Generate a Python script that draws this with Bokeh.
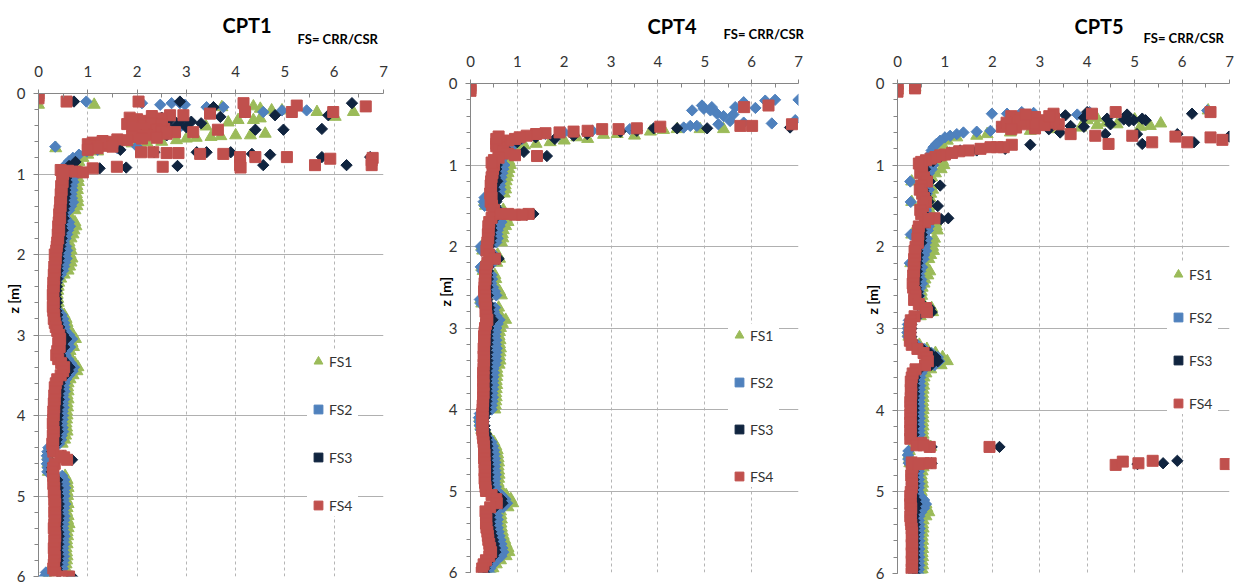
import math
from bokeh.plotting import figure
from bokeh.layouts import row
from bokeh.models import Range1d, FixedTicker, Title
from bokeh.embed import file_html
from bokeh.resources import INLINE

nan = float("nan")

SERIES = ["FS1", "FS2", "FS3", "FS4"]
PANELS = ["CPT1", "CPT4", "CPT5"]
SUBTITLE = "FS= CRR/CSR"
Y_LABEL = "z [m]"
X_TICKS = [0, 1, 2, 3, 4, 5, 6, 7]
Y_TICKS = [0, 1, 2, 3, 4, 5, 6]

# regular CPT depth grid below 1 m (m)
DEPTH = [1.00, 1.05, 1.10, 1.15, 1.20, 1.25, 1.30, 1.35, 1.40, 1.45,
         1.50, 1.55, 1.60, 1.65, 1.70, 1.75, 1.80, 1.85, 1.90, 1.95,
         2.00, 2.05, 2.10, 2.15, 2.20, 2.25, 2.30, 2.35, 2.40, 2.45,
         2.50, 2.55, 2.60, 2.65, 2.70, 2.75, 2.80, 2.85, 2.90, 2.95,
         3.00, 3.05, 3.10, 3.15, 3.20, 3.25, 3.30, 3.35, 3.40, 3.45,
         3.50, 3.55, 3.60, 3.65, 3.70, 3.75, 3.80, 3.85, 3.90, 3.95,
         4.00, 4.05, 4.10, 4.15, 4.20, 4.25, 4.30, 4.35, 4.40, 4.45,
         4.50, 4.55, 4.60, 4.65, 4.70, 4.75, 4.80, 4.85, 4.90, 4.95,
         5.00, 5.05, 5.10, 5.15, 5.20, 5.25, 5.30, 5.35, 5.40, 5.45,
         5.50, 5.55, 5.60, 5.65, 5.70, 5.75, 5.80, 5.85, 5.90, 5.95,
         6.00]

# ---------------- CPT1 ----------------
c1_fs1 = [0.82, 0.80, 0.81, 0.78, 0.79, 0.77, 0.79, 0.80, 0.78, 0.74,
          0.62, 0.64, 0.74, 0.76, 0.72, 0.70, 0.66, 0.62, 0.64, 0.66,
          0.64, 0.68, 0.66, 0.63, 0.60, 0.52, 0.45, 0.41, 0.40, 0.39,
          0.38, 0.39, 0.40, 0.38, 0.44, 0.52, 0.56, 0.58, 0.60, 0.62,
          0.70, 0.75, 0.68, 0.71, 0.64, 0.62, 0.67, 0.74, 0.80, 0.78,
          0.70, 0.64, 0.60, 0.59, 0.60, 0.58, 0.60, 0.58, 0.59, 0.57,
          0.58, 0.57, 0.56, 0.57, 0.58, 0.55, 0.53, 0.48, 0.22, 0.20,
          0.19, 0.20, 0.19, 0.21, 0.20, 0.54, 0.58, 0.59, 0.60, 0.58,
          0.59, 0.57, 0.60, 0.58, 0.57, 0.60, 0.59, 0.62, 0.60, 0.58,
          0.59, 0.57, 0.58, 0.56, 0.57, 0.58, 0.57, 0.56, 0.55, 0.20,
          0.18]
c1_fs2 = [0.72, 0.70, 0.71, 0.68, 0.69, 0.67, 0.68, 0.70, 0.66, 0.62,
          0.52, 0.55, 0.62, 0.64, 0.60, 0.58, 0.55, 0.52, 0.56, 0.58,
          0.55, 0.57, 0.54, 0.52, 0.50, 0.45, 0.40, 0.37, 0.36, 0.35,
          0.34, 0.35, 0.36, 0.34, 0.40, 0.47, 0.50, 0.52, 0.53, 0.55,
          0.62, 0.68, 0.60, 0.64, 0.57, 0.55, 0.60, 0.66, 0.72, 0.69,
          0.62, 0.56, 0.53, 0.52, 0.53, 0.50, 0.52, 0.50, 0.51, 0.49,
          0.50, 0.49, 0.48, 0.49, 0.50, 0.47, 0.46, 0.42, 0.20, 0.18,
          0.17, 0.18, 0.17, 0.19, 0.18, 0.48, 0.52, 0.53, 0.54, 0.52,
          0.53, 0.51, 0.54, 0.52, 0.51, 0.53, 0.52, 0.51, 0.50, 0.52,
          0.53, 0.51, 0.52, 0.50, 0.51, 0.52, 0.51, 0.50, 0.49, 0.15,
          0.12]
c1_fs3 = [0.58, 0.56, 0.57, 0.55, 0.54, 0.55, 0.53, 0.52, 0.53, 0.51,
          0.49, 0.51, 0.48, 0.47, 0.49, 0.46, 0.47, 0.45, 0.44, 0.43,
          0.40, 0.41, 0.40, 0.38, 0.39, 0.37, 0.38, 0.36, 0.37, 0.36,
          0.35, 0.36, 0.37, 0.35, 0.36, 0.38, 0.37, 0.39, 0.42, 0.45,
          0.50, 0.56, 0.48, 0.52, 0.46, 0.44, 0.49, 0.56, 0.63, 0.60,
          0.54, 0.46, 0.43, 0.41, 0.42, 0.40, 0.41, 0.39, 0.40, 0.38,
          0.39, 0.38, 0.37, 0.38, 0.39, 0.36, 0.37, 0.35, 0.30, 0.28,
          0.50, 0.68, 0.30, 0.28, 0.27, 0.30, 0.38, 0.37, 0.39, 0.38,
          0.40, 0.39, 0.41, 0.40, 0.39, 0.41, 0.40, 0.39, 0.38, 0.40,
          0.41, 0.39, 0.40, 0.38, 0.39, 0.40, 0.39, 0.38, 0.37, 0.41,
          0.68]
c1_fs4 = [0.50, 0.48, 0.49, 0.46, 0.47, 0.45, 0.46, 0.44, 0.45, 0.43,
          0.42, 0.44, 0.41, 0.40, 0.42, 0.39, 0.40, 0.38, 0.37, 0.36,
          0.33, 0.35, 0.34, 0.32, 0.33, 0.31, 0.32, 0.30, 0.31, 0.30,
          0.29, 0.30, 0.31, 0.29, 0.30, 0.32, 0.31, 0.33, 0.35, 0.38,
          0.42, 0.44, 0.40, 0.43, 0.38, 0.36, 0.40, 0.46, 0.52, 0.50,
          0.45, 0.38, 0.35, 0.33, 0.34, 0.32, 0.33, 0.31, 0.32, 0.30,
          0.31, 0.30, 0.29, 0.30, 0.31, 0.29, 0.30, 0.28, 0.29, 0.30,
          0.45, 0.58, 0.33, 0.30, 0.29, 0.30, 0.31, 0.30, 0.32, 0.31,
          0.33, 0.32, 0.34, 0.33, 0.32, 0.34, 0.33, 0.32, 0.31, 0.33,
          0.34, 0.32, 0.33, 0.31, 0.32, 0.33, 0.32, 0.31, 0.30, 0.34,
          0.62]
# scattered readings (depth m, FS)
c1_fs1_pts = [(0.14, 0.00), (0.14, 1.13), (0.17, 3.72), (0.16, 4.36), (0.21, 4.73), (0.21, 4.94),
              (0.23, 5.65), (0.29, 6.02), (0.23, 6.39), (0.19, 4.50), (0.41, 3.40), (0.36, 3.85),
              (0.33, 4.05), (0.33, 4.36), (0.31, 4.50), (0.50, 4.60), (0.52, 4.30), (0.52, 4.00),
              (0.53, 3.70), (0.54, 3.50), (0.55, 3.20), (0.56, 3.00), (0.58, 2.80), (0.60, 2.50),
              (0.61, 2.20), (0.62, 1.90), (0.63, 1.60), (0.64, 1.40), (0.68, 0.35), (0.72, 1.20),
              (0.76, 1.00), (0.80, 0.90), (0.85, 0.82), (0.90, 0.80), (0.95, 0.78)]
c1_fs2_pts = [(0.10, 0.97), (0.12, 2.10), (0.14, 2.47), (0.12, 2.70), (0.12, 2.87), (0.14, 2.97),
              (0.17, 3.41), (0.17, 3.55), (0.17, 3.75), (0.23, 4.20), (0.23, 4.56), (0.21, 4.94),
              (0.21, 5.44), (0.66, 0.34), (0.32, 2.30), (0.35, 2.60), (0.40, 2.90), (0.92, 0.52),
              (0.88, 0.56), (0.84, 0.62), (0.80, 0.70), (0.76, 0.82), (0.72, 0.98), (0.70, 1.20),
              (0.68, 1.60), (0.66, 2.00)]
c1_fs3_pts = [(0.10, 0.72), (0.10, 2.87), (0.17, 3.55), (0.27, 4.80), (0.27, 5.88), (0.12, 6.36),
              (0.30, 2.50), (0.31, 2.70), (0.33, 2.90), (0.35, 3.10), (0.37, 3.30), (0.29, 3.69),
              (0.45, 4.40), (0.45, 4.97), (0.44, 5.75), (0.40, 2.80), (0.42, 3.00), (0.38, 2.60),
              (0.52, 2.60), (0.55, 2.00), (0.58, 1.60), (0.62, 1.30), (0.70, 1.66), (0.73, 2.35),
              (0.73, 3.21), (0.73, 3.41), (0.73, 3.90), (0.75, 4.33), (0.76, 4.70), (0.79, 5.75),
              (0.79, 6.73), (0.90, 2.82), (0.92, 1.78), (0.93, 1.24), (0.89, 4.56), (0.89, 6.25),
              (0.85, 0.75), (0.90, 0.62), (0.95, 0.55)]
c1_fs4_pts = [(0.00, 0.00), (0.03, 0.00), (0.06, 0.00), (0.10, 0.57), (0.10, 2.03), (0.12, 4.16),
              (0.23, 4.19), (0.23, 5.14), (0.15, 5.24), (0.23, 5.98), (0.16, 6.64), (0.30, 1.85),
              (0.32, 2.00), (0.34, 2.15), (0.33, 2.30), (0.36, 2.45), (0.38, 1.80), (0.40, 2.10),
              (0.42, 2.40), (0.44, 2.55), (0.46, 2.20), (0.27, 2.67), (0.27, 2.94), (0.25, 3.48),
              (0.48, 2.77), (0.48, 3.14), (0.45, 3.64), (0.28, 2.30), (0.31, 2.50), (0.35, 1.90),
              (0.37, 2.30), (0.39, 2.50), (0.41, 1.90), (0.43, 2.10), (0.45, 2.40), (0.47, 2.50),
              (0.50, 2.60), (0.52, 2.20), (0.54, 1.90), (0.57, 1.60), (0.59, 1.30), (0.61, 1.10),
              (0.63, 1.00), (0.65, 1.30), (0.55, 2.40), (0.56, 2.10), (0.58, 1.80), (0.60, 1.50),
              (0.62, 1.30), (0.64, 1.15), (0.66, 1.05), (0.68, 1.20), (0.70, 1.00), (0.66, 1.50),
              (0.73, 2.08), (0.73, 2.33), (0.74, 2.60), (0.74, 2.84), (0.75, 3.28), (0.75, 3.75),
              (0.79, 4.09), (0.79, 4.40), (0.79, 5.04), (0.81, 5.92), (0.83, 6.76), (0.80, 6.78),
              (0.91, 2.52), (0.91, 1.59), (0.93, 1.10), (0.89, 4.09), (0.89, 5.61), (0.89, 6.76),
              (0.92, 4.10), (0.95, 0.45), (0.96, 0.60), (0.97, 0.75), (0.98, 0.90), (0.99, 0.50),
              (6.00, 0.48), (4.52, 0.52)]

# ---------------- CPT4 ----------------
c4_fs1 = [0.85, 0.82, 0.80, 0.78, 0.76, 0.74, 0.75, 0.72, 0.32, 0.30,
          0.32, 0.70, 0.72, 0.76, 0.80, 0.75, 0.70, 0.68, 0.69, 0.66,
          0.24, 0.26, 0.58, 0.62, 0.56, 0.24, 0.27, 0.52, 0.54, 0.50,
          0.56, 0.62, 0.66, 0.22, 0.24, 0.60, 0.58, 0.64, 0.75, 0.68,
          0.64, 0.62, 0.61, 0.63, 0.62, 0.64, 0.63, 0.62, 0.63, 0.61,
          0.56, 0.57, 0.56, 0.55, 0.56, 0.55, 0.54, 0.55, 0.54, 0.53,
          0.52, 0.22, 0.20, 0.21, 0.22, 0.24, 0.32, 0.42, 0.50, 0.54,
          0.57, 0.58, 0.59, 0.60, 0.59, 0.60, 0.61, 0.60, 0.59, 0.62,
          0.64, 0.76, 0.86, 0.90, 0.80, 0.64, 0.65, 0.66, 0.65, 0.66,
          0.68, 0.70, 0.73, 0.76, 0.80, 0.82, 0.76, 0.64, 0.55, 0.48,
          0.46]
c4_fs2 = [0.72, 0.70, 0.68, 0.66, 0.65, 0.63, 0.64, 0.62, 0.30, 0.28,
          0.30, 0.60, 0.62, 0.64, 0.66, 0.62, 0.58, 0.57, 0.58, 0.55,
          0.22, 0.24, 0.50, 0.55, 0.48, 0.22, 0.25, 0.45, 0.46, 0.44,
          0.48, 0.52, 0.55, 0.20, 0.22, 0.52, 0.50, 0.55, 0.62, 0.58,
          0.55, 0.54, 0.53, 0.55, 0.54, 0.56, 0.55, 0.54, 0.55, 0.53,
          0.49, 0.50, 0.49, 0.48, 0.49, 0.48, 0.47, 0.48, 0.47, 0.46,
          0.45, 0.20, 0.18, 0.19, 0.20, 0.22, 0.30, 0.38, 0.45, 0.48,
          0.50, 0.51, 0.52, 0.53, 0.52, 0.53, 0.54, 0.53, 0.52, 0.54,
          0.56, 0.66, 0.74, 0.78, 0.70, 0.56, 0.57, 0.58, 0.57, 0.58,
          0.60, 0.62, 0.64, 0.66, 0.68, 0.70, 0.66, 0.56, 0.48, 0.42,
          0.40]
c4_fs3 = [0.56, 0.55, 0.54, 0.52, 0.57, 0.50, 0.51, 0.49, 0.60, 0.55,
          0.52, 0.58, 1.34, 0.52, 0.46, 0.44, 0.45, 0.43, 0.44, 0.42,
          0.40, 0.39, 0.46, 0.60, 0.41, 0.38, 0.37, 0.36, 0.37, 0.35,
          0.36, 0.34, 0.37, 0.36, 0.38, 0.40, 0.39, 0.41, 0.47, 0.40,
          0.38, 0.37, 0.36, 0.37, 0.36, 0.35, 0.36, 0.35, 0.36, 0.35,
          0.35, 0.34, 0.35, 0.34, 0.35, 0.34, 0.35, 0.34, 0.34, 0.33,
          0.33, 0.32, 0.30, 0.28, 0.30, 0.31, 0.33, 0.34, 0.35, 0.36,
          0.36, 0.37, 0.36, 0.37, 0.38, 0.37, 0.38, 0.37, 0.38, 0.39,
          0.40, 0.55, 0.66, 0.68, 0.52, 0.40, 0.41, 0.42, 0.41, 0.42,
          0.44, 0.46, 0.48, 0.50, 0.52, 0.53, 0.48, 0.40, 0.34, 0.30,
          0.29]
c4_fs4 = [0.50, 0.48, 0.47, 0.45, 0.44, 0.43, 0.44, 0.42, 0.45, 0.43,
          0.46, 0.50, 1.24, 0.45, 0.40, 0.38, 0.39, 0.37, 0.38, 0.36,
          0.35, 0.34, 0.40, 0.52, 0.36, 0.33, 0.32, 0.31, 0.32, 0.30,
          0.30, 0.29, 0.31, 0.30, 0.32, 0.33, 0.32, 0.34, 0.36, 0.33,
          0.31, 0.30, 0.29, 0.30, 0.29, 0.28, 0.29, 0.28, 0.29, 0.28,
          0.28, 0.27, 0.28, 0.27, 0.28, 0.27, 0.28, 0.27, 0.27, 0.26,
          0.26, 0.25, 0.26, 0.25, 0.26, 0.25, 0.26, 0.27, 0.28, 0.29,
          0.29, 0.30, 0.29, 0.30, 0.31, 0.30, 0.31, 0.30, 0.31, 0.32,
          0.33, 0.45, 0.55, 0.56, 0.42, 0.32, 0.33, 0.34, 0.33, 0.34,
          0.36, 0.37, 0.38, 0.40, 0.42, 0.44, 0.40, 0.33, 0.28, 0.25,
          0.24]
c4_fs1_pts = [(0.56, 5.40), (0.56, 4.90), (0.56, 4.41), (0.57, 4.12), (0.59, 3.84), (0.62, 3.13),
              (0.63, 2.84), (0.66, 2.27), (0.70, 2.00), (0.72, 1.70), (0.74, 1.40), (0.76, 1.15),
              (0.80, 1.00), (0.85, 0.90), (0.90, 0.85), (0.95, 0.82), (0.68, 2.50), (0.64, 3.50)]
c4_fs2_pts = [(0.20, 7.00), (0.20, 6.50), (0.21, 6.29), (0.30, 6.08), (0.29, 5.65), (0.23, 5.83),
              (0.38, 5.61), (0.40, 5.40), (0.37, 5.26), (0.29, 5.15), (0.31, 4.98), (0.27, 4.94),
              (0.33, 4.73), (0.33, 5.12), (0.49, 6.43), (0.48, 5.83), (0.45, 6.93), (0.46, 5.54),
              (0.50, 5.29), (0.52, 4.69), (0.52, 4.83), (0.54, 4.55), (0.56, 3.40), (0.58, 2.60),
              (0.60, 2.00), (0.62, 1.60), (0.64, 1.30), (0.68, 1.10), (0.74, 0.95), (0.80, 0.85),
              (0.88, 0.75), (0.95, 0.65)]
c4_fs3_pts = [(0.54, 6.82), (0.55, 5.05), (0.55, 4.41), (0.55, 3.91), (0.58, 3.55), (0.59, 3.20),
              (0.62, 2.49), (0.64, 2.20), (0.89, 1.63), (0.66, 1.39), (0.84, 1.14), (0.68, 1.80),
              (0.72, 1.00), (0.80, 0.75), (0.90, 0.62), (0.96, 0.55), (1.61, 1.20)]
c4_fs4_pts = [(0.03, 0.00), (0.06, 0.00), (0.09, 0.00), (0.29, 5.84), (0.27, 6.36), (0.52, 5.76),
              (0.52, 6.01), (0.50, 6.86), (0.53, 4.05), (0.55, 3.55), (0.56, 3.16), (0.56, 2.81),
              (0.58, 2.50), (0.59, 2.20), (0.60, 1.90), (0.61, 1.60), (0.62, 1.40), (0.64, 1.20),
              (0.66, 1.05), (0.68, 0.95), (0.70, 0.80), (0.72, 0.65), (0.74, 0.55), (0.77, 0.55),
              (0.80, 0.60), (0.83, 0.70), (0.86, 0.80), (0.88, 0.95), (0.89, 1.42), (0.91, 0.60),
              (0.94, 0.50), (0.97, 0.45), (0.65, 0.60), (0.68, 0.55), (1.60, 0.65), (1.60, 0.80),
              (1.61, 0.95), (1.61, 1.10)]

# ---------------- CPT5 ----------------
c5_fs1 = [0.98, 0.92, 0.80, 0.72, 0.30, 0.70, 0.74, 0.70, 0.68, 0.30,
          0.70, 0.68, 0.72, 0.75, 0.80, 0.82, 0.84, 0.30, 0.78, 0.76,
          0.74, 0.76, 0.70, 0.66, 0.28, 0.62, 0.68, 0.64, 0.58, 0.56,
          0.52, 0.50, 0.51, 0.48, 0.55, 0.72, 0.74, 0.48, 0.26, 0.24,
          0.24, 0.23, 0.24, 0.34, 0.46, 0.62, 0.80, 0.95, 1.05, 0.92,
          0.70, 0.60, 0.56, 0.54, 0.55, 0.54, 0.53, 0.54, 0.53, 0.54,
          0.54, 0.53, 0.54, 0.53, 0.54, 0.53, 0.54, 0.52, 0.58, 0.70,
          0.25, 0.24, 0.25, 0.26, 0.54, 0.52, 0.50, 0.52, 0.53, 0.52,
          0.50, 0.52, 0.55, 0.60, 0.62, 0.66, 0.60, 0.54, 0.53, 0.54,
          0.53, 0.52, 0.53, 0.52, 0.53, 0.52, 0.53, 0.52, 0.53, 0.52,
          0.52]
c5_fs2 = [0.75, 0.72, 0.66, 0.62, 0.27, 0.64, 0.66, 0.62, 0.60, 0.28,
          0.62, 0.60, 0.64, 0.66, 0.68, 0.66, 0.64, 0.28, 0.62, 0.60,
          0.58, 0.60, 0.56, 0.55, 0.26, 0.52, 0.48, 0.46, 0.50, 0.52,
          0.48, 0.45, 0.46, 0.43, 0.50, 0.66, 0.68, 0.44, 0.24, 0.22,
          0.22, 0.21, 0.22, 0.30, 0.42, 0.56, 0.72, 0.85, 0.88, 0.78,
          0.56, 0.50, 0.48, 0.47, 0.48, 0.47, 0.46, 0.47, 0.46, 0.47,
          0.47, 0.46, 0.47, 0.46, 0.47, 0.46, 0.47, 0.45, 0.55, 0.70,
          0.23, 0.22, 0.23, 0.24, 0.46, 0.45, 0.44, 0.45, 0.46, 0.45,
          0.44, 0.48, 0.56, 0.60, 0.56, 0.50, 0.46, 0.45, 0.46, 0.47,
          0.46, 0.45, 0.46, 0.45, 0.46, 0.45, 0.46, 0.45, 0.46, 0.45,
          0.44]
c5_fs3 = [0.56, 0.58, 0.54, 0.62, 0.68, 0.90, 0.54, 0.58, 0.62, 0.66,
          0.85, 0.54, 0.56, 1.07, 0.64, 0.52, 0.50, 0.51, 0.49, 0.50,
          0.44, 0.42, 0.43, 0.41, 0.42, 0.40, 0.41, 0.39, 0.40, 0.38,
          0.39, 0.42, 0.44, 0.41, 0.52, 0.68, 0.72, 0.42, 0.30, 0.29,
          0.29, 0.28, 0.29, 0.30, 0.35, 0.52, 0.68, 0.80, 0.85, 0.70,
          0.46, 0.38, 0.36, 0.34, 0.35, 0.34, 0.35, 0.34, 0.33, 0.34,
          0.34, 0.33, 0.34, 0.33, 0.34, 0.33, 0.34, 0.33, 0.55, 0.72,
          nan, nan, nan, 0.72, 0.36, 0.34, 0.33, 0.34, 0.35, 0.34,
          0.33, 0.34, 0.38, 0.40, 0.38, 0.36, 0.34, 0.35, 0.36, 0.35,
          0.36, 0.35, 0.36, 0.35, 0.36, 0.35, 0.36, 0.35, 0.36, 0.35,
          0.35]
c5_fs4 = [0.50, 0.52, 0.48, 0.56, 0.62, 0.50, 0.47, 0.52, 0.56, 0.60,
          0.54, 0.48, 0.50, 0.78, 0.58, 0.45, 0.43, 0.44, 0.42, 0.43,
          0.38, 0.36, 0.37, 0.35, 0.36, 0.34, 0.35, 0.33, 0.34, 0.32,
          0.33, 0.36, 0.38, 0.35, 0.45, 0.60, 0.62, 0.36, 0.28, 0.27,
          0.27, 0.26, 0.27, 0.26, 0.30, 0.42, 0.55, 0.62, 0.64, 0.58,
          0.38, 0.32, 0.30, 0.28, 0.29, 0.28, 0.29, 0.28, 0.27, 0.28,
          0.28, 0.27, 0.28, 0.27, 0.28, 0.27, 0.28, 0.27, 0.50, 0.68,
          nan, nan, nan, 0.55, 0.32, 0.30, 0.29, 0.30, 0.31, 0.30,
          0.28, 0.27, 0.28, 0.27, 0.29, 0.28, 0.27, 0.28, 0.29, 0.30,
          0.31, 0.30, 0.31, 0.30, 0.31, 0.30, 0.31, 0.30, 0.31, 0.30,
          0.30]
c5_fs1_pts = [(0.02, 0.00), (0.08, 0.00), (0.05, 0.37), (0.33, 6.55), (0.49, 5.55), (0.52, 5.33),
              (0.53, 5.12), (0.50, 4.63), (0.51, 4.21), (0.54, 3.86), (0.56, 3.29), (0.58, 2.80),
              (0.60, 2.38), (0.62, 1.89), (0.64, 1.67), (0.66, 1.25), (0.70, 1.05), (0.75, 0.95),
              (0.80, 0.92), (0.85, 0.90), (0.90, 0.92), (0.95, 0.95), (0.42, 4.20), (0.45, 4.00),
              (0.44, 5.00), (0.48, 4.40)]
c5_fs2_pts = [(0.37, 1.99), (0.37, 2.31), (0.35, 2.62), (0.36, 2.87), (0.38, 3.79), (0.35, 4.05),
              (0.33, 6.53), (0.58, 1.96), (0.59, 1.67), (0.60, 1.39), (0.62, 1.25), (0.64, 1.11),
              (0.66, 1.00), (0.70, 0.90), (0.74, 0.82), (0.78, 0.76), (0.82, 0.72), (0.86, 0.70),
              (0.90, 0.68), (0.95, 0.66), (0.50, 2.50), (0.52, 2.20)]
c5_fs3_pts = [(0.39, 3.54), (0.35, 4.00), (0.38, 4.84), (0.42, 3.93), (0.43, 4.42), (0.44, 4.77),
              (0.45, 4.98), (0.43, 5.16), (0.45, 5.23), (0.37, 6.21), (0.56, 3.19), (0.60, 3.43),
              (0.52, 3.65), (0.53, 3.93), (0.50, 4.49), (0.62, 4.38), (0.46, 4.88), (0.62, 5.05),
              (0.74, 5.16), (0.72, 6.25), (0.65, 6.99), (0.62, 5.90), (0.75, 2.80), (0.80, 2.27),
              (0.82, 1.67), (0.82, 1.32), (0.85, 1.10), (0.90, 0.90), (0.95, 0.75), (4.45, 2.15),
              (4.66, 5.06), (4.65, 5.60), (4.62, 5.90), (1.66, 0.92)]
c5_fs4_pts = [(0.01, 0.00), (0.04, 0.00), (0.07, 0.00), (0.10, 0.00), (0.03, 0.37), (0.06, 0.37),
              (0.37, 3.29), (0.37, 4.10), (0.35, 4.60), (0.35, 6.60), (0.40, 2.40), (0.42, 2.60),
              (0.44, 2.80), (0.46, 3.00), (0.48, 3.20), (0.50, 3.40), (0.52, 2.30), (0.54, 2.50),
              (0.50, 2.70), (0.47, 2.50), (0.45, 3.10), (0.43, 3.30), (0.53, 2.20), (0.55, 2.90),
              (0.41, 2.90), (0.45, 2.60), (0.49, 2.90), (0.51, 3.10), (0.38, 2.70), (0.40, 3.20),
              (0.48, 2.30), (0.56, 2.40), (0.62, 3.65), (0.64, 4.17), (0.74, 4.45), (0.64, 4.95),
              (0.72, 5.37), (0.65, 5.86), (0.72, 6.11), (0.66, 6.60), (0.69, 6.85), (0.75, 2.41),
              (0.78, 2.24), (0.78, 2.10), (0.78, 1.96), (0.80, 1.75), (0.82, 1.50), (0.83, 1.30),
              (0.85, 1.15), (0.87, 1.00), (0.88, 0.90), (0.90, 0.80), (0.92, 0.70), (0.94, 0.60),
              (0.96, 0.50), (0.98, 0.45), (4.45, 1.94), (4.67, 4.60), (4.63, 4.75), (4.65, 5.08),
              (4.62, 5.38), (4.66, 6.92), (4.64, 0.30), (4.66, 0.45), (4.65, 0.70), (4.43, 0.40),
              (4.43, 0.55), (1.66, 0.65)]

# ---------------- styling ----------------
COLORS = ["#9BBB59", "#4F81BD", "#10243F", "#C0504D"]
MARKERS = ["triangle", "square", "square", "square"]
SIZES = [12, 8, 8, 11]
ANGLES = [0, math.pi / 4, math.pi / 4, 0]
FONT = "Lato"

# figure geometry (pixels)
GEOM = [
    dict(w=410, l=38, r=27, t=93, b=9, t_off=184, t_so=-48, s_off=259, s_so=32, z_off=263,
         leg=(269, 60), sp=26),
    dict(w=420, l=60, r=32, t=83, b=13, t_off=177, t_so=-50, s_off=253, s_so=22, z_off=266,
         leg=(258, 85), sp=25),
    dict(w=404, l=67, r=5, t=83, b=12, t_off=177, t_so=-34, s_off=246, s_so=14, z_off=259,
         leg=(270, 159), sp=21),
]

DEEP = [[c1_fs1, c1_fs2, c1_fs3, c1_fs4],
        [c4_fs1, c4_fs2, c4_fs3, c4_fs4],
        [c5_fs1, c5_fs2, c5_fs3, c5_fs4]]
PTS = [[c1_fs1_pts, c1_fs2_pts, c1_fs3_pts, c1_fs4_pts],
       [c4_fs1_pts, c4_fs2_pts, c4_fs3_pts, c4_fs4_pts],
       [c5_fs1_pts, c5_fs2_pts, c5_fs3_pts, c5_fs4_pts]]


def make_panel(name, deep, pts, g):
    p = figure(width=g["w"], height=585, x_range=Range1d(0, 7), y_range=Range1d(6, 0),
               x_axis_location="above", output_backend="svg", toolbar_location=None,
               title_location=None,
               min_border_left=g["l"], min_border_right=g["r"],
               min_border_top=g["t"], min_border_bottom=g["b"])
    p.frame_align = False
    p.outline_line_color = None
    p.background_fill_color = "white"
    p.border_fill_color = "white"

    xa = p.xaxis[0]
    xa.ticker = FixedTicker(ticks=X_TICKS, minor_ticks=[0.5, 1.5, 2.5, 3.5, 4.5, 5.5, 6.5])
    xa.major_tick_in = 0
    xa.major_tick_out = 4
    xa.minor_tick_in = 4
    xa.minor_tick_out = 0
    xa.major_label_standoff = 13
    ya = p.yaxis[0]
    ya.ticker = FixedTicker(ticks=Y_TICKS, minor_ticks=[k / 5 for k in range(31)])
    ya.major_tick_in = 0
    ya.major_tick_out = 5
    ya.minor_tick_in = 0
    ya.minor_tick_out = 4
    ya.major_label_standoff = 8
    for ax in (xa, ya):
        ax.axis_line_color = "#868686"
        ax.major_tick_line_color = "#868686"
        ax.minor_tick_line_color = "#868686"
        ax.major_label_text_font = FONT
        ax.major_label_text_font_size = "15px"
        ax.major_label_text_color = "#333333"

    p.xgrid.ticker = FixedTicker(ticks=[1, 2, 3, 4, 5, 6, 7])
    p.xgrid.grid_line_color = "#B5B5B5"
    p.xgrid.grid_line_dash = "3 3"
    p.ygrid.ticker = FixedTicker(ticks=[1, 2, 3, 4, 5, 6])
    p.ygrid.grid_line_color = "#B0B0B0"

    for i, s in enumerate(SERIES):
        zs = DEPTH + [a for a, b in pts[i]]
        vs = deep[i] + [b for a, b in pts[i]]
        p.scatter(vs, zs, marker=MARKERS[i], size=SIZES[i], angle=ANGLES[i],
                  fill_color=COLORS[i], line_color=COLORS[i], legend_label=s)

    leg = p.legend[0]
    leg.location = g["leg"]
    leg.background_fill_color = "white"
    leg.background_fill_alpha = 1
    leg.border_line_color = None
    leg.padding = 10
    leg.spacing = g["sp"]
    leg.margin = 0
    leg.glyph_width = 22
    leg.glyph_height = 22
    leg.label_height = 22
    leg.label_width = 29
    leg.label_standoff = 0
    leg.label_text_font = FONT
    leg.label_text_font_size = "14px"
    leg.label_text_color = "#333333"

    p.add_layout(Title(text=SUBTITLE, align="left", offset=g["s_off"], standoff=g["s_so"],
                       text_font=FONT, text_font_size="13px", text_font_style="bold",
                       text_color="black"), "above")
    p.add_layout(Title(text=name, align="left", offset=g["t_off"], standoff=g["t_so"],
                       text_font=FONT, text_font_size="20px", text_font_style="bold",
                       text_color="black"), "above")
    p.add_layout(Title(text=Y_LABEL, align="left", offset=g["z_off"], standoff=-16,
                       text_font=FONT, text_font_size="14px", text_font_style="bold",
                       text_color="black"), "left")
    return p


figs = [make_panel(PANELS[k], DEEP[k], PTS[k], GEOM[k]) for k in range(3)]
layout = row(*figs)

open("out.html", "w").write(file_html(layout, INLINE))
